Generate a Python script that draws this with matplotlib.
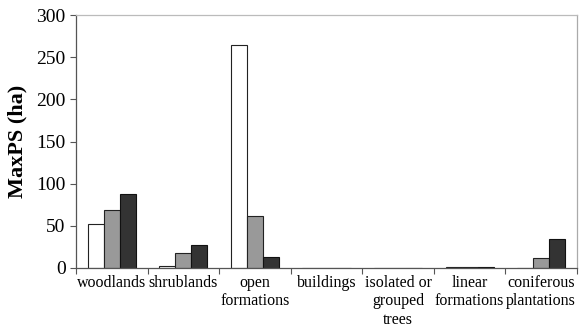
import numpy as np
import matplotlib.pyplot as plt

plt.rcParams['font.family'] = ['Liberation Serif', 'DejaVu Serif']

categories = ['woodlands', 'shrublands', 'open\nformations', 'buildings',
              'isolated or\ngrouped\ntrees', 'linear\nformations',
              'coniferous\nplantations']
s1 = [52, 2, 265, 0, 0, 0.6, 0]
s2 = [69, 18, 62, 0, 0, 0.6, 12]
s3 = [88, 27, 13, 0, 0, 0.6, 34]

fig = plt.figure(figsize=(5.8, 3.3), dpi=100)
ax = fig.add_axes([76/580, 1-268/330, 501/580, 253/330])

x = np.arange(len(categories))
w = 0.224
ax.bar(x - w, s1, w, color='white', edgecolor='#222222', linewidth=0.8)
ax.bar(x, s2, w, color='#999999', edgecolor='#222222', linewidth=0.8)
ax.bar(x + w, s3, w, color='#333333', edgecolor='#111111', linewidth=0.8)

ax.set_xlim(-0.5, len(categories) - 0.5)
ax.set_ylim(0, 300)
ax.set_yticks([0, 50, 100, 150, 200, 250, 300])
ax.tick_params(axis='y', labelsize=14, length=4, width=0.8, color='#555555')

# category labels centred, boundary ticks between groups
ax.set_xticks(x)
ax.set_xticklabels(categories, fontsize=11.5, linespacing=1.2)
ax.tick_params(axis='x', which='major', length=0, pad=5)
ax.set_xticks(np.arange(-0.5, len(categories)), minor=True)
ax.tick_params(axis='x', which='minor', length=4, width=0.8, color='#555555')

ax.spines['left'].set_color('#555555')
ax.spines['bottom'].set_color('#555555')
ax.spines['top'].set_color('#bbbbbb')
ax.spines['right'].set_color('#aaaaaa')
for s in ax.spines.values():
    s.set_linewidth(0.9)

ax.set_ylabel('MaxPS (ha)', fontsize=16, fontweight='bold', labelpad=6)

fig.savefig('out.png', dpi=100)
